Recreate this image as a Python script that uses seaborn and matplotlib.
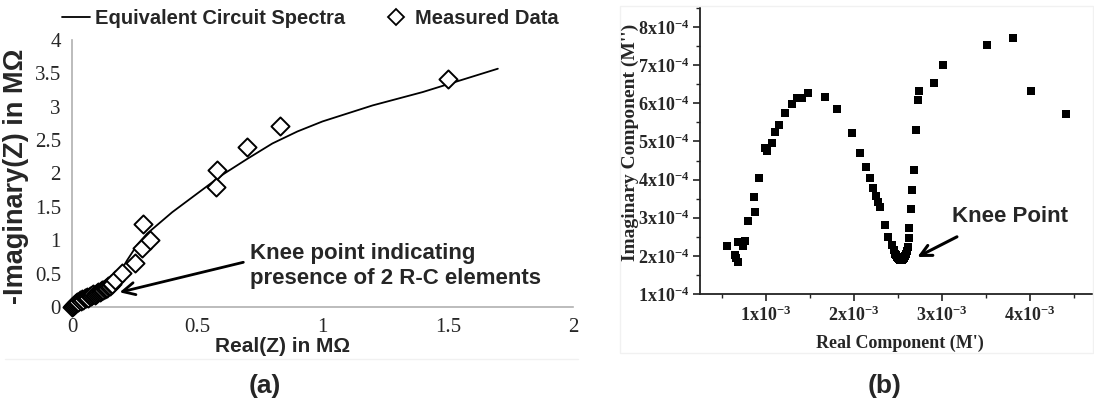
import numpy as np
import pandas as pd
import matplotlib
matplotlib.use("Agg")
import matplotlib.pyplot as plt
import seaborn as sns
from matplotlib.ticker import MultipleLocator, FixedLocator, FixedFormatter
from matplotlib.lines import Line2D
from matplotlib.patches import Rectangle

# ---------------- Panel (a): Nyquist plot (MOhm) ----------------
fit_real = [0.0, 0.05, 0.10, 0.15, 0.18, 0.22, 0.26, 0.30, 0.40, 0.50, 0.60, 0.70, 0.80, 0.90, 1.00, 1.20, 1.40, 1.70]
fit_imag = [0.0, 0.12, 0.24, 0.34, 0.45, 0.70, 0.93, 1.10, 1.42, 1.70, 1.98, 2.22, 2.45, 2.63, 2.78, 3.02, 3.22, 3.57]

meas_real = [0.0, 0.004, 0.008, 0.012, 0.016, 0.02, 0.025, 0.03, 0.035, 0.04, 0.045, 0.05, 0.055, 0.06,
             0.065, 0.07, 0.075, 0.08, 0.085, 0.09, 0.095, 0.10, 0.105, 0.11, 0.115, 0.12, 0.125, 0.13,
             0.135, 0.14, 0.145, 0.15, 0.155, 0.16, 0.17, 0.20, 0.25, 0.28, 0.31, 0.284, 0.575, 0.58,
             0.70, 0.83, 1.50]
meas_imag = [0.0, 0.01, 0.03, 0.04, 0.06, 0.07, 0.08, 0.10, 0.09, 0.12, 0.11, 0.14, 0.13, 0.15,
             0.14, 0.17, 0.16, 0.18, 0.19, 0.18, 0.20, 0.21, 0.22, 0.22, 0.24, 0.25, 0.26, 0.27,
             0.28, 0.29, 0.31, 0.32, 0.34, 0.35, 0.40, 0.51, 0.66, 0.88, 1.00, 1.24, 1.80, 2.05,
             2.40, 2.71, 3.42]

# ---------------- Panel (b): modulus plot ----------------
mod_real_e3 = [0.56, 0.65, 0.66, 0.68, 0.68, 0.74, 0.76, 0.79, 0.88, 0.86, 0.92, 0.99, 1.01, 1.07, 1.10, 1.15,
               1.22, 1.30, 1.35, 1.41, 1.48, 1.67, 1.81, 1.98, 2.07, 2.14, 2.18, 2.22, 2.25, 2.27, 2.29, 2.35,
               2.39, 2.43, 2.45, 2.47, 2.48, 2.49, 2.50, 2.51, 2.52, 2.53, 2.54, 2.55, 2.56, 2.57, 2.58, 2.59,
               2.60, 2.61, 2.62, 2.63, 2.65, 2.66, 2.68, 2.71, 2.73, 2.74, 2.91, 3.01, 3.51, 3.81, 4.01, 4.41]
mod_imag_e4 = [2.26, 2.03, 1.95, 1.84, 2.37, 2.26, 2.39, 2.92, 3.15, 3.55, 4.03, 4.82, 4.74, 4.97, 5.24, 5.42,
               5.74, 5.97, 6.13, 6.13, 6.26, 6.16, 5.86, 5.21, 4.71, 4.34, 4.03, 3.79, 3.58, 3.42, 3.29, 2.82,
               2.50, 2.29, 2.16, 2.06, 2.01, 1.97, 1.94, 1.92, 1.90, 1.89, 1.89, 1.90, 1.92, 1.95, 1.99, 2.05,
               2.13, 2.22, 2.47, 2.74, 3.24, 3.74, 4.26, 5.29, 6.10, 6.32, 6.53, 7.00, 7.52, 7.71, 6.32, 5.71]

xticks_b = [1, 2, 3, 4]
yticks_b = [1, 2, 3, 4, 5, 6, 7, 8]

sns.set_theme(style="white")
plt.rcParams["mathtext.fontset"] = "custom"
plt.rcParams["mathtext.rm"] = "Liberation Serif"
plt.rcParams["mathtext.bf"] = "Liberation Serif:bold"
plt.rcParams["mathtext.it"] = "Liberation Serif:italic"

SANS = ["Liberation Sans", "DejaVu Sans"]
SERIF = ["Liberation Serif", "DejaVu Serif"]

W, H = 1094, 412
fig = plt.figure(figsize=(W / 100, H / 100), dpi=100)
fig.patch.set_facecolor("white")

def fx(px):
    return px / W

def fy(py):
    return 1 - py / H

# faint borders of the two embedded panels
fig.add_artist(Rectangle((fx(620), fy(353)), fx(1093) - fx(620), fy(6) - fy(353),
                         transform=fig.transFigure, fill=False, edgecolor="#f1f1f1", lw=1))
fig.add_artist(Line2D([fx(5), fx(578)], [fy(359), fy(359)], transform=fig.transFigure,
                      color="#f1f1f1", lw=1))

# ---------- panel (a) ----------
axa = fig.add_axes([fx(72), fy(307), fx(573) - fx(72), fy(40) - fy(307)])
axa.patch.set_alpha(0)
df_fit = pd.DataFrame({"re": fit_real, "im": fit_imag})
df_meas = pd.DataFrame({"re": meas_real, "im": meas_imag})
sns.lineplot(data=df_fit, x="re", y="im", ax=axa, color="black", lw=1.3, sort=False)
sns.scatterplot(data=df_meas, x="re", y="im", ax=axa, marker="D", s=85,
                facecolor="white", edgecolor="black", linewidth=1.4, zorder=3, clip_on=False)
axa.set_xlim(0, 2)
axa.set_ylim(0, 4)
axa.set_xticks([0, 0.5, 1, 1.5, 2])
axa.set_xticklabels(["0", "0.5", "1", "1.5", "2"])
axa.set_yticks([0, 0.5, 1, 1.5, 2, 2.5, 3, 3.5, 4])
axa.set_yticklabels(["0", "0.5", "1", "1.5", "2", "2.5", "3", "3.5", "4"])
for s in ["top", "right"]:
    axa.spines[s].set_visible(False)
for s in ["left", "bottom"]:
    axa.spines[s].set_color("#b0b0b0")
    axa.spines[s].set_linewidth(1.2)
axa.tick_params(axis="both", direction="out", length=4, width=1, color="#b0b0b0",
                labelsize=15, pad=4)
for lab in axa.get_xticklabels() + axa.get_yticklabels():
    lab.set_family(SERIF)
axa.set_xlabel("")
axa.set_ylabel("")

fig.text(fx(283), fy(347), "Real(Z) in MΩ", family=SANS, fontweight="bold", fontsize=15,
         ha="center", va="center")
fig.text(fx(16), fy(176), "-Imaginary(Z) in MΩ", family=SANS, fontweight="bold", fontsize=19.5,
         ha="center", va="center", rotation=90)

axa.text(0.71, 0.615, "Knee point indicating\npresence of 2 R-C elements",
         family=SANS, fontweight="bold", fontsize=16, ha="left", va="center", linespacing=1.3)
axa.annotate("", xy=(0.19, 0.22), xytext=(0.684, 0.67),
             arrowprops=dict(arrowstyle="->", color="black", lw=2, mutation_scale=22,
                             shrinkA=0, shrinkB=0))

handles = [Line2D([0], [0], color="black", lw=1.3),
           Line2D([0], [0], marker="D", color="none", markerfacecolor="white",
                  markeredgecolor="black", markersize=8, markeredgewidth=1.3)]
fig.legend(handles, ["Equivalent Circuit Spectra", "Measured Data"], loc="center left",
           bbox_to_anchor=(fx(62), fy(19)), ncol=2, frameon=False,
           prop={"family": SANS, "weight": "bold", "size": 14.5},
           handlelength=1.4, handletextpad=0.25, columnspacing=1.8, borderpad=0,
           borderaxespad=0)

fig.text(fx(265), fy(386), "(a)", family=SANS, fontweight="bold", fontsize=19, ha="center", va="center")

# ---------- panel (b) ----------
xb0, xb1 = 0.25, 4.70
yb0, yb1 = 1.0, 8.5
axb = fig.add_axes([fx(700), fy(294), fx(700 + (xb1 - xb0) * 88) - fx(700), fy(8) - fy(294)])
axb.patch.set_alpha(0)
df_mod = pd.DataFrame({"re": np.array(mod_real_e3) * 1e-3, "im": np.array(mod_imag_e4) * 1e-4})
sns.scatterplot(data=df_mod, x="re", y="im", ax=axb, marker="s", s=26, color="black",
                edgecolor="black", linewidth=0)
axb.set_xlim(xb0 * 1e-3, xb1 * 1e-3)
axb.set_ylim(yb0 * 1e-4, yb1 * 1e-4)
axb.xaxis.set_major_locator(FixedLocator([v * 1e-3 for v in xticks_b]))
axb.xaxis.set_major_formatter(FixedFormatter([r"$\mathbf{%dx10^{-3}}$" % v for v in xticks_b]))
axb.xaxis.set_minor_locator(MultipleLocator(0.5e-3))
axb.yaxis.set_major_locator(FixedLocator([v * 1e-4 for v in yticks_b]))
axb.yaxis.set_major_formatter(FixedFormatter([r"$\mathbf{%dx10^{-4}}$" % v for v in yticks_b]))
axb.yaxis.set_minor_locator(MultipleLocator(0.5e-4))
for s in ["top", "right"]:
    axb.spines[s].set_visible(False)
for s in ["left", "bottom"]:
    axb.spines[s].set_color("#222222")
    axb.spines[s].set_linewidth(1.3)
axb.tick_params(axis="both", which="major", direction="out", length=5, width=1.2, color="#222222",
                labelsize=13, pad=3, bottom=True, left=True)
axb.tick_params(axis="both", which="minor", direction="out", length=3, width=1.0, color="#222222",
                bottom=True, left=True)
axb.set_xlabel("")
axb.set_ylabel("")

fig.text(fx(900), fy(343), "Real Component (M')", family=SERIF, fontweight="bold", fontsize=13,
         ha="center", va="center")
fig.text(fx(630), fy(142), "Imaginary Component (M'')", family=SERIF, fontweight="bold", fontsize=14,
         ha="center", va="center", rotation=90)

axb.text(3.11e-3, 3.03e-4, "Knee Point", family=SANS, fontweight="bold", fontsize=16,
         ha="left", va="center")
axb.annotate("", xy=(2.72e-3, 1.97e-4), xytext=(3.17e-3, 2.50e-4),
             arrowprops=dict(arrowstyle="->", color="black", lw=2.2, mutation_scale=20,
                             shrinkA=0, shrinkB=0))

fig.text(fx(885), fy(386), "(b)", family=SANS, fontweight="bold", fontsize=19, ha="center", va="center")

fig.savefig("out.png", dpi=100, facecolor="white")
